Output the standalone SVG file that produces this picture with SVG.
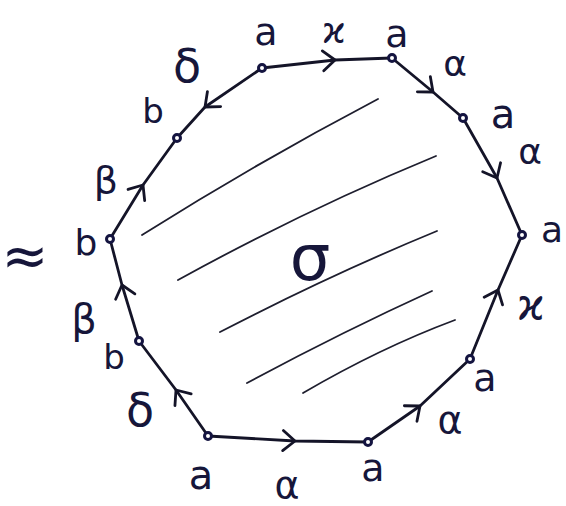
<svg xmlns="http://www.w3.org/2000/svg" width="566" height="506" viewBox="0 0 566 506">
<defs>
<marker id="chev" markerUnits="userSpaceOnUse" markerWidth="30" markerHeight="30" refX="0" refY="0" viewBox="-15 -15 30 30" orient="auto" overflow="visible">
<path d="M -12 -10 L 0 0 L -12 10" fill="none" stroke="#141428" stroke-width="2.8" stroke-linecap="round" stroke-linejoin="round"/>
</marker>
</defs>
<style>
.edge{fill:none;stroke:#141428;stroke-width:2.8;stroke-linecap:round;stroke-linejoin:round;marker-mid:url(#chev)}
.hatch{fill:none;stroke:#1e1e2e;stroke-width:1.8;stroke-linecap:round}
.v{fill:#fff;stroke:#141440;stroke-width:3}
.t{font-family:"DejaVu Sans",sans-serif;fill:#16163a;text-anchor:middle;dominant-baseline:central}
</style>
<rect width="566" height="506" fill="#fff"/>
<g id="hatching">
<path class="hatch" d="M142 235 Q 258 162 378 99"/>
<path class="hatch" d="M178 280 Q 305 210 436 156"/>
<path class="hatch" d="M220 332 Q 330 275 437 231"/>
<path class="hatch" d="M247 383 Q 340 333 432 291"/>
<path class="hatch" d="M303 393 Q 380 348 455 320"/>
</g>
<g id="connectors">
<path class="edge" d="M262 68 L335 60 L392 58"/>
<path class="edge" d="M392 58 L433 92 L463 118"/>
<path class="edge" d="M463 118 L497 178 L522 235"/>
<path class="edge" d="M470 359 L498 290 L522 235"/>
<path class="edge" d="M368 442 L420 406 L470 359"/>
<path class="edge" d="M208 436 L295 441 L368 442"/>
<path class="edge" d="M208 436 L176 390 L139 341"/>
<path class="edge" d="M139 341 L122 285 L110 239"/>
<path class="edge" d="M110 239 L143 185 L177 138"/>
<path class="edge" d="M262 68 L205 107 L177 138"/>
</g>
<g id="v1"><circle class="v" cx="262" cy="68" r="3.5"/><text class="t" x="266" y="32" font-size="38">a</text></g>
<g id="v2"><circle class="v" cx="392" cy="58" r="3.5"/><text class="t" x="397" y="34" font-size="38">a</text></g>
<g id="v3"><circle class="v" cx="463" cy="118" r="3.5"/><text class="t" x="503" y="114" font-size="40">a</text></g>
<g id="v4"><circle class="v" cx="522" cy="235" r="3.5"/><text class="t" x="552" y="229" font-size="36">a</text></g>
<g id="v5"><circle class="v" cx="470" cy="359" r="3.5"/><text class="t" x="485" y="378" font-size="38">a</text></g>
<g id="v6"><circle class="v" cx="368" cy="442" r="3.5"/><text class="t" x="373" y="468" font-size="38">a</text></g>
<g id="v7"><circle class="v" cx="208" cy="436" r="3.5"/><text class="t" x="201" y="475" font-size="40">a</text></g>
<g id="v8"><circle class="v" cx="139" cy="341" r="3.5"/><text class="t" x="114" y="357" font-size="34">b</text></g>
<g id="v9"><circle class="v" cx="110" cy="239" r="3.5"/><text class="t" x="86" y="242" font-size="36">b</text></g>
<g id="v10"><circle class="v" cx="177" cy="138" r="3.5"/><text class="t" x="153" y="111" font-size="34">b</text></g>
<g id="edge-labels">
<text class="t" x="334" y="30" font-size="36">ϰ</text>
<text class="t" x="455" y="63" font-size="36">α</text>
<text class="t" x="530" y="151" font-size="36">α</text>
<text class="t" x="531" y="304" font-size="42">ϰ</text>
<text class="t" x="450" y="420" font-size="38">α</text>
<text class="t" x="287" y="485" font-size="38">α</text>
<text class="t" x="140" y="410" font-size="46">δ</text>
<text class="t" x="84" y="319" font-size="40">β</text>
<text class="t" x="106" y="180" font-size="38">β</text>
<text class="t" x="187" y="66" font-size="46">δ</text>
</g>
<g id="surface"><text class="t" x="310" y="258" font-size="64">σ</text></g>
<g id="equiv"><text class="t" x="25" y="255" font-size="56">≈</text></g>
</svg>
